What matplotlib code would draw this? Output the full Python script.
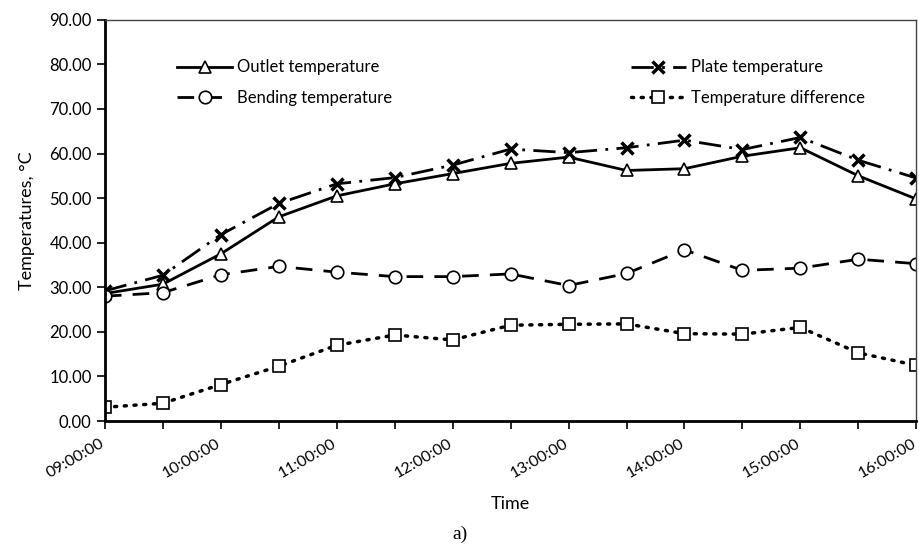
import matplotlib.pyplot as plt
import matplotlib.transforms as mtransforms
import numpy as np

# 30-minute readings from 09:00 to 16:00
times = ['09:00', '09:30', '10:00', '10:30', '11:00', '11:30', '12:00', '12:30',
         '13:00', '13:30', '14:00', '14:30', '15:00', '15:30', '16:00']
outlet = [28.6, 30.7, 37.5, 45.8, 50.5, 53.2, 55.5, 57.8, 59.2, 56.2, 56.6, 59.4, 61.3, 55.0, 49.8]
plate = [29.2, 32.7, 41.8, 48.8, 53.2, 54.6, 57.4, 61.0, 60.2, 61.3, 63.0, 60.9, 63.6, 58.5, 54.5]
bending = [28.0, 28.8, 32.8, 34.7, 33.4, 32.4, 32.4, 33.0, 30.4, 33.1, 38.4, 33.8, 34.3, 36.3, 35.3]
diff = [3.1, 4.0, 8.2, 12.3, 17.0, 19.3, 18.2, 21.5, 21.7, 21.8, 19.6, 19.5, 21.0, 15.3, 12.5]
hour_labels = ['09:00:00', '10:00:00', '11:00:00', '12:00:00', '13:00:00', '14:00:00', '15:00:00', '16:00:00']

plt.rcParams['font.family'] = ['Lato', 'DejaVu Sans']

hours = np.array([int(t[:2]) + int(t[3:]) / 60 for t in times])

fig = plt.figure(figsize=(9.2, 5.49), dpi=100)
ax = fig.add_axes([0.114, 0.233, 0.882, 0.731])

mk = dict(markersize=9, markerfacecolor='white', markeredgecolor='black', markeredgewidth=1.2)
l_out, = ax.plot(hours, outlet, color='black', lw=2, ls='-', marker='^', label='Outlet temperature', **mk)
l_pl, = ax.plot(hours, plate, color='black', lw=2, ls=(0, (8, 3, 1, 3)), marker='x', markersize=8,
                markeredgewidth=2.5, label='Plate temperature')
l_bd, = ax.plot(hours, bending, color='black', lw=2, ls=(0, (6, 4)), marker='o',
                label='Bending temperature', **mk)
l_df, = ax.plot(hours, diff, color='black', lw=2.5, ls=(0, (0.6, 2.2)), dash_capstyle='round', marker='s',
                label='Temperature difference', **mk)

ax.set_xlim(9, 16)
ax.set_ylim(0, 90)
ax.set_yticks(np.arange(0, 91, 10))
ax.set_yticklabels([f'{v:.2f}' for v in np.arange(0, 91, 10)], fontsize=12)
ax.set_xticks(np.arange(9, 16.01, 1))
ax.set_xticklabels(hour_labels, rotation=30, ha='right', rotation_mode='anchor', fontsize=11.5)
ax.set_xticks(hours, minor=True)
ax.tick_params(axis='both', which='both', direction='out', length=6, width=1.2, color='black')
ax.tick_params(axis='x', which='major', pad=5)

# nudge rotated labels a little left so the last one stays inside the figure
shift = mtransforms.ScaledTranslation(-5 / 100, 0, fig.dpi_scale_trans)
for lbl in ax.get_xticklabels():
    lbl.set_transform(lbl.get_transform() + shift)

for s in ['left', 'bottom']:
    ax.spines[s].set_linewidth(2)
for s in ['top', 'right']:
    ax.spines[s].set_linewidth(1)
    ax.spines[s].set_color('#444444')

ax.set_ylabel('Temperatures, °C', fontsize=13, labelpad=10)
ax.set_xlabel('Time', fontsize=13, labelpad=11)
fig.text(0.5, 0.027, 'a)', fontsize=14, family='Liberation Serif', ha='center', va='center')

# Excel fills the legend row by row
ax.legend([l_out, l_bd, l_pl, l_df],
          [l.get_label() for l in (l_out, l_bd, l_pl, l_df)],
          loc='upper left', bbox_to_anchor=(0.081, 0.918), ncol=2, frameon=False, fontsize=12,
          borderaxespad=0, columnspacing=14.3, handlelength=3.3, handletextpad=0.3, labelspacing=0.85)

fig.savefig('out.png', dpi=100)
